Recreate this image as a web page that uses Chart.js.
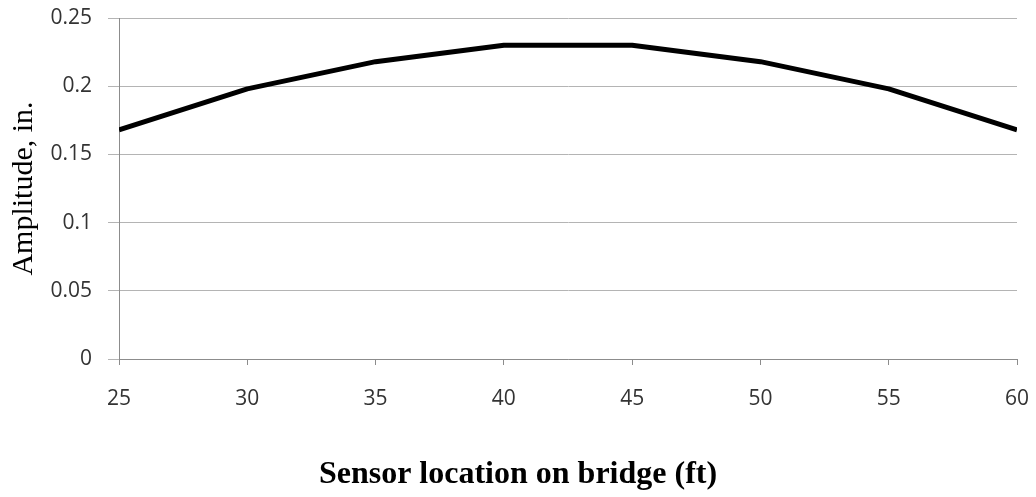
<!DOCTYPE html>
<html>
<head>
<meta charset="utf-8">
<script src="https://cdn.jsdelivr.net/npm/chart.js@4/dist/chart.umd.min.js"></script>
<style>
  html, body { margin: 0; padding: 0; background: #fff; }
  #wrap { width: 1036px; height: 497px; }
</style>
</head>
<body>
<div id="wrap"><canvas id="ampChart" width="1036" height="497"></canvas></div>
<script>
// sensor positions along the bridge (ft) and measured amplitude (in.)
const sensorLocations = [25, 30, 35, 40, 45, 50, 55, 60];
const amplitudes = [0.168, 0.198, 0.218, 0.23, 0.23, 0.218, 0.198, 0.168];

const yTitle = 'Amplitude, in.';
const xTitle = 'Sensor location on bridge (ft)';

const gridColor = '#b4b4b4';
const axisColor = '#8c8c8c';
const tickFont = { family: '"Open Sans", sans-serif', size: 21 };

// x axis title is centred on the whole canvas, so draw it here
const bottomTitle = {
  id: 'bottomTitle',
  afterDraw(chart) {
    const ctx = chart.ctx;
    ctx.save();
    ctx.font = 'bold 32px "Liberation Serif", "Times New Roman", serif';
    ctx.fillStyle = '#000';
    ctx.textAlign = 'center';
    ctx.textBaseline = 'middle';
    ctx.fillText(xTitle, chart.width / 2, 475);
    ctx.restore();
  }
};

const ctx = document.getElementById('ampChart').getContext('2d');
new Chart(ctx, {
  type: 'line',
  data: {
    datasets: [{
      data: sensorLocations.map((x, i) => ({ x: x, y: amplitudes[i] })),
      borderColor: '#000',
      borderWidth: 5,
      borderJoinStyle: 'round',
      tension: 0,
      fill: false,
      pointRadius: 0
    }]
  },
  options: {
    responsive: false,
    animation: false,
    layout: { padding: { left: 0, right: 19, top: 18, bottom: 0 } },
    scales: {
      x: {
        type: 'linear',
        min: 25,
        max: 60,
        afterFit: (s) => {
          s.height = 138;
          s.paddingLeft = 0;
          s.paddingRight = 0;
        },
        ticks: { stepSize: 5, color: '#333', font: tickFont, padding: 21, maxRotation: 0 },
        grid: { drawOnChartArea: false, drawTicks: true, tickLength: 6, color: axisColor },
        border: { color: axisColor, width: 1 }
      },
      y: {
        min: 0,
        max: 0.25,
        afterFit: (s) => {
          s.width = 119;
          s.paddingTop = 0;
          s.paddingBottom = 0;
        },
        ticks: {
          stepSize: 0.05,
          color: '#333',
          font: tickFont,
          padding: 16,
          callback: (v) => String(+v.toFixed(2))
        },
        grid: { color: gridColor, tickLength: 11 },
        border: { color: axisColor, width: 1 },
        title: {
          display: true,
          text: yTitle,
          color: '#000',
          font: { family: '"Liberation Serif", "Times New Roman", serif', size: 30 },
          padding: { top: 6, bottom: 0 }
        }
      }
    },
    plugins: {
      legend: { display: false },
      tooltip: { enabled: false }
    }
  },
  plugins: [bottomTitle]
});
</script>
</body>
</html>
